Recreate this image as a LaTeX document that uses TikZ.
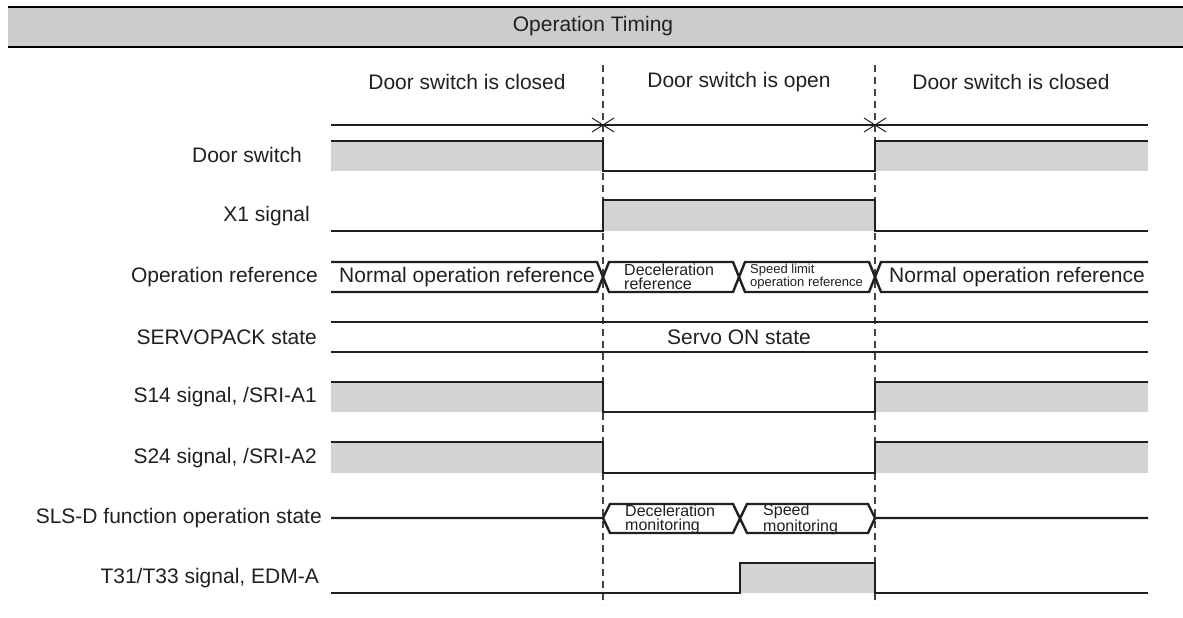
\documentclass[tikz,border=0pt]{standalone}
\usepackage{fontspec}
\setmainfont{Liberation Sans}
\definecolor{sigc}{HTML}{231F20}
\definecolor{fillg}{HTML}{D1D3D4}
\definecolor{headg}{HTML}{CCCCCC}
\begin{document}
\begin{tikzpicture}[x=1pt,y=-1pt,
  lab/.style={anchor=east, font=\fontsize{21}{24}\selectfont, inner sep=0pt, text=sigc},
  txt/.style={font=\fontsize{21}{24}\selectfont, inner sep=0pt, text=sigc},
  sigline/.style={draw=sigc, line width=2.4pt, line join=miter},
  gfill/.style={fill=fillg, draw=none},
  dashv/.style={draw=sigc!85, line width=1.2pt, dash pattern=on 7pt off 5pt},
  xmark/.style={draw=sigc, line width=1pt},
  smalltxt/.style={font=\fontsize{16}{14}\selectfont, align=left, anchor=west, inner sep=0pt, text=sigc},
  tinytxt/.style={font=\fontsize{13}{12}\selectfont, align=left, anchor=west, inner sep=0pt, text=sigc}
]
\useasboundingbox (0,0) rectangle (1183,618);
% header
\fill[headg] (8,6) rectangle (1183,48);
\draw[line width=2pt] (8,7) -- (1183,7);
\draw[line width=2pt] (8,47) -- (1183,47);
\node[txt] (title) at (593,26) {Operation Timing};
% column headings
\node[txt] (h1) at (467,82) {Door switch is closed};
\node[txt] (h2) at (739,82) {Door switch is open};
\node[txt] (h3) at (1011,82) {Door switch is closed};
% dashed time markers
\coordinate (ta) at (603,65); \coordinate (tab) at (603,605);
\coordinate (tb) at (875,65); \coordinate (tbb) at (875,605);
\draw[dashv] (ta) -- (tab);
\draw[dashv] (tb) -- (tbb);
% top timeline
\draw[sigline] (331,125) -- (1148,125);
\draw[xmark] (592,118) -- (614,132) (592,132) -- (614,118);
\draw[xmark] (864,118) -- (886,132) (864,132) -- (886,118);
% labels
\node[lab] (l1) at (302,155) {Door switch};
\node[lab] (l2) at (310,216) {X1 signal};
\node[lab] (l3) at (318,277) {Operation reference};
\node[lab] (l4) at (317,337) {SERVOPACK state};
\node[lab] (l5) at (317,397) {S14 signal, /SRI-A1};
\node[lab] (l6) at (317,458) {S24 signal, /SRI-A2};
\node[lab] (l7) at (322,518) {SLS-D function operation state};
\node[lab] (l8) at (319,578) {T31/T33 signal, EDM-A};
% Door switch
\fill[fillg] (331,141) rectangle (603,171);
\fill[fillg] (875,141) rectangle (1148,171);
\draw[sigline] (331,141) -- (603,141) -- (603,171) -- (875,171) -- (875,141) -- (1148,141);
% X1 signal
\fill[fillg] (603,200) rectangle (875,231);
\draw[sigline] (331,231) -- (603,231) -- (603,200) -- (875,200) -- (875,231) -- (1148,231);
% Operation reference
\draw[sigline] (331,262) -- (597,262) -- (609,292) -- (733,292) -- (745,262) -- (869,262) -- (881,292) -- (1148,292);
\draw[sigline] (331,292) -- (597,292) -- (609,262) -- (733,262) -- (745,292) -- (869,292) -- (881,262) -- (1148,262);
\node[txt] (or1) at (467,277) {Normal operation reference};
\node[smalltxt] (or2) at (624,277) {Deceleration\\reference};
\node[tinytxt] (or3) at (750,277) {Speed limit\\operation reference};
\node[txt] (or4) at (1017,277) {Normal operation reference};
% SERVOPACK state
\draw[sigline] (331,322) -- (1148,322);
\draw[sigline] (331,352) -- (1148,352);
\node[txt] (sv) at (739,337) {Servo ON state};
% S14
\fill[fillg] (331,382) rectangle (603,412);
\fill[fillg] (875,382) rectangle (1148,412);
\draw[sigline] (331,382) -- (603,382) -- (603,412) -- (875,412) -- (875,382) -- (1148,382);
% S24
\fill[fillg] (331,442) rectangle (603,473);
\fill[fillg] (875,442) rectangle (1148,473);
\draw[sigline] (331,442) -- (603,442) -- (603,473) -- (875,473) -- (875,442) -- (1148,442);
% SLS-D
\draw[sigline] (331,518) -- (603,518) -- (610,504) -- (733,504) -- (747,533) -- (868,533) -- (875,518) -- (1148,518);
\draw[sigline] (603,518) -- (610,533) -- (733,533) -- (747,504) -- (868,504) -- (875,518);
\node[smalltxt] (sl1) at (625,519) {Deceleration\\monitoring};
\node[smalltxt] (sl2) at (763,519) {Speed\\monitoring};
% T31/T33
\fill[fillg] (740,563) rectangle (875,593);
\draw[sigline] (331,593) -- (740,593) -- (740,563) -- (875,563) -- (875,593) -- (1148,593);
\end{tikzpicture}
\end{document}
